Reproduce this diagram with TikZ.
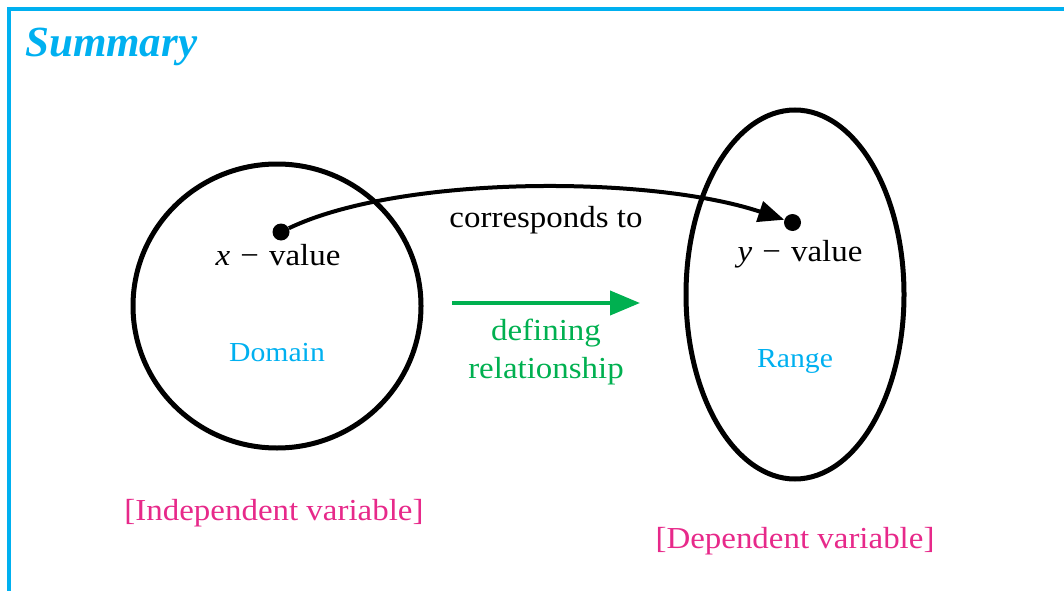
\documentclass[tikz,border=0pt]{standalone}
\usepackage{fontspec}
\setmainfont{Liberation Serif}[FakeStretch=1.08]
\newfontfamily\titlefont{Liberation Serif}
\usetikzlibrary{shapes.geometric,arrows.meta}
\definecolor{sumblue}{HTML}{00B0F0}
\definecolor{defgreen}{HTML}{00B050}
\definecolor{varpink}{HTML}{E7298A}
\tikzset{
  setshape/.style={draw=black, line width=5pt, ellipse, inner sep=0pt},
  pointdot/.style={circle, fill=black, inner sep=0pt, minimum size=17pt},
  blacklbl/.style={anchor=base, inner sep=0pt, font=\fontsize{30.5}{35}\selectfont},
  bluelbl/.style={anchor=base, inner sep=0pt, text=sumblue, font=\fontsize{27.5}{32}\selectfont},
  greenlbl/.style={anchor=base, inner sep=0pt, text=defgreen, font=\fontsize{30.5}{35}\selectfont},
  pinklbl/.style={anchor=base, inner sep=0pt, text=varpink, font=\fontsize{30.5}{35}\selectfont},
  framepart/.style={draw=sumblue, line width=4pt},
}
\begin{document}
\begin{tikzpicture}[x=1pt,y=-1pt]
\useasboundingbox (0,0) rectangle (1064,591);
% frame
\draw[framepart] (1064,9.5) -- (9,9.5) -- (9,591);
\node[anchor=base west, inner sep=0pt, text=sumblue, font=\titlefont\bfseries\itshape\fontsize{43}{50}\selectfont] (title) at (25,57) {Summary};
% sets
\node[setshape, minimum width=288pt, minimum height=284pt] (dom) at (277,306) {};
\node[setshape, minimum width=218pt, minimum height=369pt] (rng) at (795,294.5) {};
% points
\node[pointdot] (dx) at (281,232) {};
\node[pointdot] (dy) at (792.5,222.5) {};
\draw[line width=4pt, -{Triangle[length=26pt,width=21pt]}] (dx) .. controls (400,175) and (650,175) .. (dy);
% labels
\node[blacklbl] (xval) at (278,265) {\textit{x}\,\,−\,\,value};
\node[blacklbl] (yval) at (800,261) {\textit{y}\,\,−\,\,value};
\node[blacklbl] (corr) at (546,227) {corresponds to};
\node[bluelbl] (domlbl) at (277,361) {Domain};
\node[bluelbl] (rnglbl) at (795,367) {Range};
% defining relationship
\coordinate (ga) at (452,303);
\coordinate (gb) at (640,303);
\draw[draw=defgreen, fill=defgreen, line width=4pt, -{Triangle[length=30pt,width=24pt]}] (ga) -- (gb);
\node[greenlbl] (def1) at (546,340) {defining};
\node[greenlbl] (def2) at (546,378) {relationship};
% variables
\node[pinklbl] (indep) at (274,520) {[Independent variable]};
\node[pinklbl] (dep) at (795,548) {[Dependent variable]};
\end{tikzpicture}
\end{document}
